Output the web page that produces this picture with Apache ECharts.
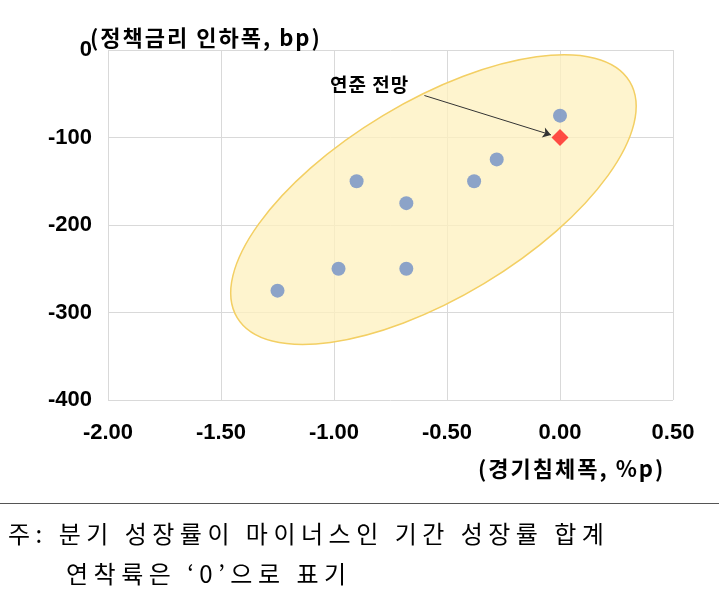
<!DOCTYPE html>
<html><head><meta charset="utf-8">
<script src="https://cdn.jsdelivr.net/npm/echarts@6/dist/echarts.min.js"></script>
<style>
body{margin:0;background:#fff;position:relative;width:719px;height:598px;overflow:hidden}
#c{width:719px;height:598px}
.t{position:absolute;font-family:"Noto Sans CJK KR",sans-serif;color:#000;white-space:nowrap;line-height:1}
.b{font-weight:bold}
</style>
</head><body><div id="c"></div>
<div class="t b" style="left:90px;top:25px;font-size:22px;letter-spacing:2px">(정책금리 인하폭, bp)</div>
<div class="t b" style="left:478px;top:456px;font-size:22px;letter-spacing:2px">(경기침체폭, %p)</div>
<div class="t b" style="left:330px;top:74px;font-size:19px;letter-spacing:1px">연준 전망</div>
<div style="position:absolute;left:0;top:503px;width:719px;border-top:1px solid #555"></div>
<div class="t" style="left:8px;top:521px;font-size:24px;letter-spacing:5.5px">주: 분기 성장률이 마이너스인 기간 성장률 합계</div>
<div class="t" style="left:66px;top:561px;font-size:24px;letter-spacing:5.5px">연착륙은 ‘0’으로 표기</div>
<script>
var xTicks = [-2, -1.5, -1, -0.5, 0, 0.5];
var yTicks = [0, -100, -200, -300, -400];
var pointsX = [0, -0.28, -0.38, -0.9, -0.68, -0.98, -0.68, -1.25];
var pointsY = [-75, -125, -150, -150, -175, -250, -250, -275];
var fedX = [0];
var fedY = [-100];
var ellipseCenter = [-0.56, -171];

var chart = echarts.init(document.getElementById('c'));
var font = '"Liberation Sans", Arial, sans-serif';

var option = {
    animation: false,
    grid: { left: 108, right: 46, top: 50, bottom: 198 },
    xAxis: {
        type: 'value', min: -2, max: 0.5, interval: 0.5,
        axisLine: { show: false }, axisTick: { show: false },
        splitLine: { lineStyle: { color: '#d9d9d9' } },
        axisLabel: { color: '#000', fontWeight: 'bold', fontSize: 22, fontFamily: font, margin: 22,
            formatter: function (v) { return v.toFixed(2); } }
    },
    yAxis: {
        type: 'value', min: -400, max: 0, interval: 100,
        axisLine: { show: false }, axisTick: { show: false },
        splitLine: { lineStyle: { color: '#d9d9d9' } },
        axisLabel: { color: '#000', fontWeight: 'bold', fontSize: 22, fontFamily: font, margin: 16 }
    },
    series: [
        {
            type: 'custom', z: 1, silent: true,
            data: [ellipseCenter],
            renderItem: function (params, api) {
                var c = api.coord([api.value(0), api.value(1)]);
                return {
                    type: 'ellipse',
                    shape: { cx: c[0], cy: c[1], rx: 229, ry: 98 },
                    rotation: 31 * Math.PI / 180,
                    originX: c[0], originY: c[1],
                    style: { fill: 'rgba(253,240,190,0.75)', stroke: '#f3cf63', lineWidth: 1.5 }
                };
            }
        },
        {
            type: 'scatter', z: 3, symbolSize: 14,
            itemStyle: { color: '#6f8fc7' },
            data: pointsX.map(function (x, i) { return [x, pointsY[i]]; })
        },
        {
            type: 'scatter', z: 4, symbol: 'diamond', symbolSize: 17,
            itemStyle: { color: '#ff2020' },
            data: fedX.map(function (x, i) { return [x, fedY[i]]; })
        },
        {
            type: 'lines', coordinateSystem: 'cartesian2d', z: 5,
            symbol: ['none', 'arrow'], symbolSize: 8,
            lineStyle: { color: '#333', width: 1, opacity: 1 },
            data: [{ coords: [[-0.6, -52], [-0.04, -97]] }]
        }
    ]
};
chart.setOption(option);
</script></body></html>
